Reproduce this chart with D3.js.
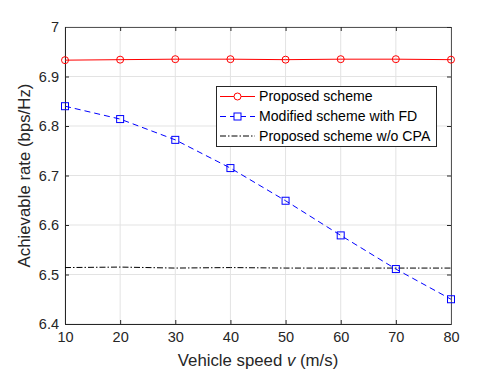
<!DOCTYPE html>
<html>
<head>
<meta charset="utf-8">
<script src="https://cdn.jsdelivr.net/npm/d3@7"></script>
<style>
body{margin:0;background:#fff;}
svg{display:block;font-family:"Liberation Sans",Arial,Helvetica,sans-serif;}
</style>
</head>
<body>
<svg id="chart" width="498" height="374"></svg>
<script>
const speeds = [10, 20, 30, 40, 50, 60, 70, 80];
const proposed = [6.933, 6.934, 6.935, 6.935, 6.934, 6.935, 6.935, 6.934];
const modifiedFD = [6.840, 6.814, 6.772, 6.715, 6.649, 6.579, 6.511, 6.450];
const proposedNoCPA = [6.514, 6.515, 6.513, 6.514, 6.513, 6.513, 6.513, 6.513];
const xTicks = [10, 20, 30, 40, 50, 60, 70, 80];
const yTicks = [6.4, 6.5, 6.6, 6.7, 6.8, 6.9, 7];
const seriesNames = ["Proposed scheme", "Modified scheme with FD", "Proposed scheme w/o CPA"];

const svg = d3.select("#chart");
const L = 65, R = 451, T = 27, B = 324;
const x = d3.scaleLinear().domain([10, 80]).range([L, R]);
const y = d3.scaleLinear().domain([6.4, 7]).range([B, T]);
const axisCol = "#262626";

// grid
const g = svg.append("g");
g.selectAll(".gx").data(xTicks).join("line")
  .attr("x1", d => x(d)).attr("x2", d => x(d)).attr("y1", T).attr("y2", B)
  .attr("stroke", "#e3e3e3").attr("stroke-width", 1);
g.selectAll(".gy").data(yTicks).join("line")
  .attr("y1", d => y(d)).attr("y2", d => y(d)).attr("x1", L).attr("x2", R)
  .attr("stroke", "#e3e3e3").attr("stroke-width", 1);

// axes
const xAxis = d3.axisBottom(x).tickValues(xTicks).tickSize(-4).tickPadding(8).tickFormat(d3.format("d"));
const yAxis = d3.axisLeft(y).tickValues(yTicks).tickSize(-4).tickPadding(6).tickFormat(d => d3.format("")(d));
const xa = svg.append("g").attr("transform", `translate(0,${B})`).call(xAxis);
const ya = svg.append("g").attr("transform", `translate(${L},0)`).call(yAxis);
const xt = svg.append("g").attr("transform", `translate(0,${T})`).call(d3.axisTop(x).tickValues(xTicks).tickSize(-4).tickFormat(""));
const yr = svg.append("g").attr("transform", `translate(${R},0)`).call(d3.axisRight(y).tickValues(yTicks).tickSize(-4).tickFormat(""));
[xa, ya, xt, yr].forEach(a => {
  a.select(".domain").attr("stroke", axisCol).attr("stroke-width", 1);
  a.selectAll(".tick line").attr("stroke", axisCol);
  a.selectAll("text").attr("fill", axisCol).attr("font-size", 14.5)
    .attr("font-family", "'Liberation Sans',Arial,sans-serif");
});
[xt, yr].forEach(a => a.select(".domain").attr("stroke", "#555"));

// lines
const line = d3.line().x((d, i) => x(speeds[i])).y(d => y(d));
svg.append("path").datum(proposedNoCPA).attr("d", line).attr("fill", "none")
  .attr("stroke", "#000").attr("stroke-width", 1).attr("stroke-dasharray", "6,2,1.5,2");
svg.append("path").datum(modifiedFD).attr("d", line).attr("fill", "none")
  .attr("stroke", "#0000ff").attr("stroke-width", 1).attr("stroke-dasharray", "6,4");
svg.append("path").datum(proposed).attr("d", line).attr("fill", "none")
  .attr("stroke", "#ff0000").attr("stroke-width", 1);

svg.selectAll(".cm").data(proposed).join("circle")
  .attr("cx", (d, i) => x(speeds[i])).attr("cy", d => y(d)).attr("r", 3.5)
  .attr("fill", "none").attr("stroke", "#ff0000").attr("stroke-width", 1);
svg.selectAll(".sm").data(modifiedFD).join("rect")
  .attr("x", (d, i) => x(speeds[i]) - 3.5).attr("y", d => y(d) - 3.5)
  .attr("width", 7).attr("height", 7)
  .attr("fill", "none").attr("stroke", "#0000ff").attr("stroke-width", 1);

// legend
const lg = svg.append("g");
lg.append("rect").attr("x", 216.5).attr("y", 86.5).attr("width", 220).attr("height", 60)
  .attr("fill", "#fff").attr("stroke", "#262626").attr("stroke-width", 1);
const rows = [96.5, 116.5, 136];
const styles = [
  {c: "#ff0000", dash: null, m: "circle"},
  {c: "#0000ff", dash: "6,4", m: "square"},
  {c: "#000", dash: "6,2,1.5,2", m: null}
];
seriesNames.forEach((n, i) => {
  const s = styles[i];
  const ln = lg.append("line").attr("x1", 220).attr("x2", 255).attr("y1", rows[i]).attr("y2", rows[i])
    .attr("stroke", s.c).attr("stroke-width", 1);
  if (s.dash) ln.attr("stroke-dasharray", s.dash);
  if (s.m === "circle") lg.append("circle").attr("cx", 237.5).attr("cy", rows[i]).attr("r", 3.5)
    .attr("fill", "#fff").attr("stroke", s.c);
  if (s.m === "square") lg.append("rect").attr("x", 234).attr("y", rows[i] - 3.5).attr("width", 7).attr("height", 7)
    .attr("fill", "#fff").attr("stroke", s.c);
  lg.append("text").attr("x", 259).attr("y", rows[i]).attr("dy", "0.35em")
    .attr("font-size", 14.1).attr("fill", "#000").text(n);
});

// axis labels
const xl = svg.append("text").attr("x", 258).attr("y", 366).attr("text-anchor", "middle")
  .attr("font-size", 16.8).attr("fill", axisCol);
xl.append("tspan").text("Vehicle speed ");
xl.append("tspan").attr("font-style", "italic").text("v");
xl.append("tspan").text(" (m/s)");
svg.append("text").attr("transform", `translate(24,${(T + B) / 2}) rotate(-90)`)
  .attr("text-anchor", "middle").attr("dy", "0.35em")
  .attr("font-size", 16.8).attr("fill", axisCol).text("Achievable rate (bps/Hz)");
</script>
</body>
</html>
